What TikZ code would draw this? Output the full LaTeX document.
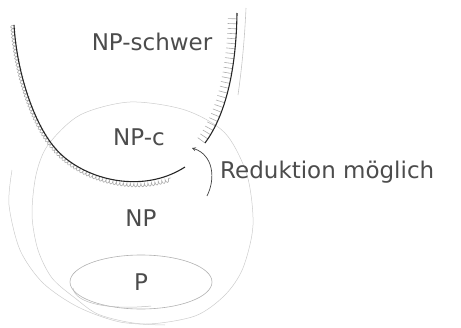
\documentclass[tikz,border=0pt]{standalone}
\usepackage{fontspec}
\newfontfamily\handfont{DejaVu Sans}
\usetikzlibrary{shapes.geometric,decorations.pathmorphing,decorations.pathreplacing}
\tikzset{
  handtext/.style={font=\handfont\fontsize{23}{26}\selectfont, text=black!70, inner sep=0pt},
  hardline/.style={line width=1.1pt, black!85},
  hatchline/.style={gray!65, line width=0.6pt},
  setline/.style={gray!40, line width=0.5pt},
}
\begin{document}
\begin{tikzpicture}[x=1pt,y=-1pt]
  \useasboundingbox (0,0) rectangle (461,327);
  % NP, with a second stroke at the lower left
  \draw[setline] plot[smooth cycle] coordinates {(130,102) (185,110) (225,133) (247,175) (253,225) (243,268) (225,295) (195,316) (145,324) (100,315) (75,298) (52,278) (38,250) (32,215) (36,175) (48,145) (80,115)};
  \draw[setline] plot[smooth] coordinates {(12,170) (9,205) (20,250) (43,283) (78,307) (120,322) (165,325)};
  % P
  \node[draw, ellipse, gray!60, line width=0.6pt, minimum width=142pt, minimum height=54pt] (p) at (141,282) {};
  \draw[gray!50, line width=0.5pt] (p.center) ++(-68,6) .. controls +(2,16) and +(-40,4) .. ++(78,18);
  % NP-hard border, hatched on the outside
  \coordinate (lefttop) at (14,25);
  \coordinate (leftbend) at (55,148);
  \coordinate (leftend) at (185,167);
  \coordinate (rightfoot) at (205,143);
  \coordinate (righttop) at (237,13);
  \draw[hatchline, decorate, decoration={bumps, mirror, segment length=7pt, amplitude=3.5pt}]
    (lefttop) .. controls (17,75) and (35,125) .. (leftbend) .. controls (80,178) and (130,192) .. (170,178);
  \draw[hatchline, decorate, decoration={border, segment length=5pt, amplitude=9pt, angle=90}]
    (rightfoot) .. controls (222,120) and (236,80) .. (righttop);
  \draw[hatchline, gray!45] (238,95) .. controls (243,60) and (245,30) .. (246,8);
  \draw[hardline] (lefttop) .. controls (17,75) and (35,125) .. (leftbend) .. controls (80,178) and (140,196) .. (leftend);
  \draw[hardline] (rightfoot) .. controls (222,120) and (236,80) .. (righttop);
  % text
  \node[handtext] (nphard) at (152,42) {NP-schwer};
  \node[handtext] (npc) at (139,137) {NP-c};
  \node[handtext] (np) at (141,218) {NP};
  \node[handtext] at (p.center) {P};
  \node[handtext, anchor=west] (reduction) at (220,172) {Reduktion möglich};
  % arrow into the gap
  \coordinate (arrowfoot) at (207,196);
  \coordinate (gap) at (192,148);
  \draw[black!75, line width=0.7pt, -stealth] (arrowfoot) .. controls (216,178) and (213,155) .. (gap);
\end{tikzpicture}
\end{document}
